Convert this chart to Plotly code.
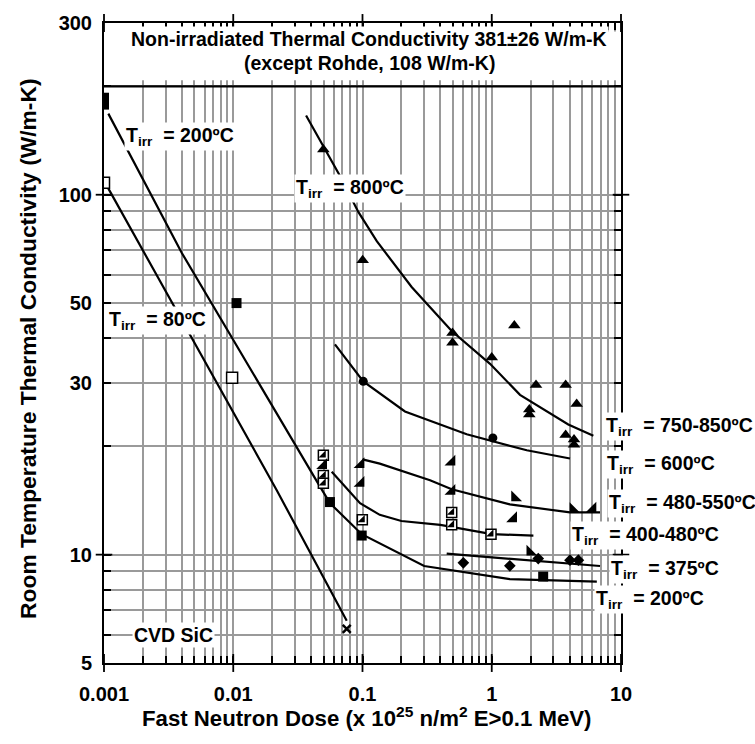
import math
import plotly.graph_objects as go

# ---------------- data ----------------
# curves (fits) per irradiation temperature
line80_x = [0.00105, 0.0217, 0.0755]
line80_y = [106, 15.1, 6.55]

line200_x = [0.00108, 0.00399, 0.0469, 0.056, 0.0986, 0.195, 0.30, 1.38, 6.5]
line200_y = [168, 69, 15.45, 13.9, 11.4, 10.06, 9.3, 8.55, 8.42]

line375_x = [0.448, 6.88]
line375_y = [10.06, 9.3]

line400_x = [0.0578, 0.0957, 0.136, 0.20, 0.40, 1.0, 2.1]
line400_y = [17.0, 13.9, 12.9, 12.4, 12.1, 11.4, 11.3]

line480_x = [0.1, 0.136, 0.333, 0.49, 1.38, 4.03, 6.88]
line480_y = [18.4, 17.9, 16.1, 15.2, 13.8, 13.1, 13.1]

line600_x = [0.0612, 0.1014, 0.213, 0.64, 1.865, 4.03]
line600_y = [38.4, 30.3, 25.0, 21.6, 19.5, 18.5]

line800_x = [0.0366, 0.067, 0.0928, 0.129, 0.24, 0.49, 0.97, 1.654, 3.91, 6.11]
line800_y = [166, 112.8, 89.6, 74.3, 55.4, 41.8, 33.9, 27.8, 23.0, 21.4]

# data points
sq_fill_x = [0.001, 0.001, 0.0106, 0.056, 0.0986, 2.5]
sq_fill_y = [186, 178, 50, 14.0, 11.3, 8.69]

sq_open_x = [0.001, 0.0098]
sq_open_y = [108, 31]

sq_half_x = [0.0498, 0.0498, 0.0498, 0.0997, 0.49, 0.49, 0.987]
sq_half_y = [18.9, 16.6, 15.8, 12.5, 13.1, 12.1, 11.4]

tri_se_x = [0.0498, 0.097, 0.097, 0.49, 0.49, 1.47, 6.04]
tri_se_y = [17.7, 17.8, 15.8, 18.1, 15.0, 12.6, 13.4]

tri_sw_x = [1.51, 4.27, 1.98]
tri_sw_y = [14.4, 13.35, 10.17]

tri_up_x = [0.0498, 0.1003, 0.497, 0.497, 1.0, 1.495, 2.2, 3.73, 4.54, 1.953, 1.953, 3.73, 4.33, 4.33]
tri_up_y = [133.5, 65.8, 41.3, 38.8, 35.3, 43.3, 29.6, 29.6, 26.2, 25.3, 24.5, 21.5, 20.9, 20.2]

circ_x = [0.1014, 1.02]
circ_y = [30.3, 21.1]

diam_x = [0.603, 1.38, 2.29, 4.03, 4.68]
diam_y = [9.49, 9.31, 9.75, 9.65, 9.65]

cross_x = [0.0755]
cross_y = [6.22]

x_major = [0.001, 0.01, 0.1, 1, 10]
x_major_text = ["0.001", "0.01", "0.1", "1", "10"]
x_minor = [m * 10.0 ** e for e in range(-3, 1) for m in range(2, 10)]
y_labels = [5, 10, 30, 50, 100, 300]
y_labels_text = ["5", "10", "30", "50", "100", "300"]
y_minor = [6, 7, 8, 9, 20, 40, 60, 70, 80, 90, 200]
y_major = [10, 100]

# ---------------- figure ----------------
W, H = 755, 744
L, R, T, B = 104, 621, 15, 663
XR = (-3, 1)
YR = (math.log10(5), math.log10(300))


def xfrac(v):
    return (math.log10(v) - XR[0]) / (XR[1] - XR[0])


def yfrac(v):
    return (math.log10(v) - YR[0]) / (YR[1] - YR[0])


def px2paper(px, py):
    return (px - L) / (R - L), (B - py) / (B - T)


FONT = "Liberation Sans, Arial, Helvetica, sans-serif"
fig = go.Figure()

LW = 2.2
for lx, ly in [(line80_x, line80_y), (line200_x, line200_y), (line375_x, line375_y),
               (line400_x, line400_y), (line480_x, line480_y), (line600_x, line600_y),
               (line800_x, line800_y)]:
    fig.add_trace(go.Scatter(x=lx, y=ly, mode="lines",
                             line=dict(color="black", width=LW), hoverinfo="skip"))

fig.add_trace(go.Scatter(x=sq_fill_x, y=sq_fill_y, mode="markers",
                         marker=dict(symbol="square", size=10, color="black")))
fig.add_trace(go.Scatter(x=sq_open_x, y=sq_open_y, mode="markers",
                         marker=dict(symbol="square", size=11, color="white",
                                     line=dict(color="black", width=1.5))))
fig.add_trace(go.Scatter(x=sq_half_x, y=sq_half_y, mode="markers",
                         marker=dict(symbol="square", size=10, color="white",
                                     line=dict(color="black", width=1.5))))
fig.add_trace(go.Scatter(x=sq_half_x, y=sq_half_y, mode="markers",
                         marker=dict(symbol="triangle-se", size=8, color="black")))
fig.add_trace(go.Scatter(x=tri_se_x, y=tri_se_y, mode="markers",
                         marker=dict(symbol="triangle-se", size=12, color="black")))
fig.add_trace(go.Scatter(x=tri_sw_x, y=tri_sw_y, mode="markers",
                         marker=dict(symbol="triangle-sw", size=12, color="black")))
fig.add_trace(go.Scatter(x=tri_up_x, y=tri_up_y, mode="markers",
                         marker=dict(symbol="triangle-up", size=11, color="black")))
fig.add_trace(go.Scatter(x=circ_x, y=circ_y, mode="markers",
                         marker=dict(symbol="circle", size=9, color="black")))
fig.add_trace(go.Scatter(x=diam_x, y=diam_y, mode="markers",
                         marker=dict(symbol="diamond", size=9, color="black")))
fig.add_trace(go.Scatter(x=cross_x, y=cross_y, mode="markers",
                         marker=dict(symbol="x-thin", size=8, color="black",
                                     line=dict(color="black", width=2.5))))

GRID = "#9a9a9a"
common = dict(type="log", tickmode="array",
              ticks="inside", ticklen=7, tickwidth=1.5, tickcolor="black",
              showgrid=True, gridcolor=GRID, gridwidth=1.8,
              showline=True, linecolor="black", linewidth=2, mirror="allticks",
              tickfont=dict(size=20, family=FONT, color="black", weight="bold"),
              zeroline=False)
fig.update_xaxes(range=list(XR), tickvals=x_major, ticktext=x_major_text,
                 ticklabelstandoff=12,
                 minor=dict(tickmode="array", tickvals=x_minor, ticks="inside",
                            ticklen=7, tickwidth=1.5, tickcolor="black",
                            showgrid=True, gridcolor=GRID, gridwidth=1.8),
                 **common)
fig.update_yaxes(range=list(YR), tickvals=y_labels, ticktext=y_labels_text,
                 ticklabelstandoff=6,
                 minor=dict(tickmode="array", tickvals=y_minor, ticks="inside",
                            ticklen=7, tickwidth=1.5, tickcolor="black",
                            showgrid=True, gridcolor=GRID, gridwidth=1.8),
                 **common)

shapes = []
# white header box hiding the grid
shapes.append(dict(type="rect", xref="x domain", yref="y domain",
                   x0=0.004, x1=0.996, y0=yfrac(208), y1=yfrac(284),
                   fillcolor="white", line=dict(width=0), layer="above"))
# black separator line at 200
shapes.append(dict(type="line", xref="x domain", yref="y domain",
                   x0=0, x1=1, y0=yfrac(200), y1=yfrac(200),
                   line=dict(color="black", width=2.2), layer="above"))
# major crossing ticks
for v in x_major:
    for base in (0, 1):
        shapes.append(dict(type="line", xref="x domain", yref="y domain",
                           x0=xfrac(v), x1=xfrac(v), y0=base - 0.014, y1=base + 0.014,
                           line=dict(color="black", width=1.8), layer="above"))
for v in y_major:
    for base in (0, 1):
        shapes.append(dict(type="line", xref="x domain", yref="y domain",
                           x0=base - 0.016, x1=base + 0.016, y0=yfrac(v), y1=yfrac(v),
                           line=dict(color="black", width=1.8), layer="above"))

annotations = []
LAB = 19.5


def label(text, px, py, size=LAB, anchor="left"):
    ax, ay = px2paper(px, py)
    annotations.append(dict(text=text, x=ax, y=ay, xref="paper", yref="paper",
                            xanchor=anchor, yanchor="middle", showarrow=False,
                            bgcolor="white", borderpad=1,
                            font=dict(size=size, family=FONT, color="black", weight="bold")))


def tirr(t):
    return "T<sub>irr</sub>\u00a0\u00a0= " + t + "ºC"


label(tirr("200"), 124, 130)
label(tirr("800"), 294, 183)
label(tirr("80"), 107, 316)
label("CVD SiC", 132, 635)
label(tirr("750-850"), 604, 424)
label(tirr("600"), 605, 462)
label(tirr("480-550"), 607, 502)
label(tirr("400-480"), 570, 534)
label(tirr("375"), 609, 568)
label(tirr("200"), 594, 599)

# header
label("Non-irradiated Thermal Conductivity 381±26 W/m-K", 369, 31, anchor="center")
label("(except Rohde, 108 W/m-K)", 369, 55, anchor="center")

# axis titles
tx, ty = px2paper(367, 718)
annotations.append(dict(text="Fast Neutron Dose (x 10<sup>25</sup> n/m<sup>2</sup> E>0.1 MeV)",
                        x=tx, y=ty, xref="paper", yref="paper", xanchor="center",
                        yanchor="middle", showarrow=False,
                        font=dict(size=22.2, family=FONT, color="black", weight="bold")))
tx, ty = px2paper(28, 345)
annotations.append(dict(text="Room Temperature Thermal Conductivity (W/m-K)",
                        x=tx, y=ty, xref="paper", yref="paper", xanchor="center",
                        yanchor="middle", showarrow=False, textangle=-90,
                        font=dict(size=22.8, family=FONT, color="black", weight="bold")))

fig.update_layout(width=W, height=H, margin=dict(l=L, r=W - R, t=T, b=H - B),
                  paper_bgcolor="white", plot_bgcolor="white", showlegend=False,
                  font=dict(family=FONT, color="black", weight="bold"),
                  shapes=shapes, annotations=annotations)

fig.write_html("out.html")
